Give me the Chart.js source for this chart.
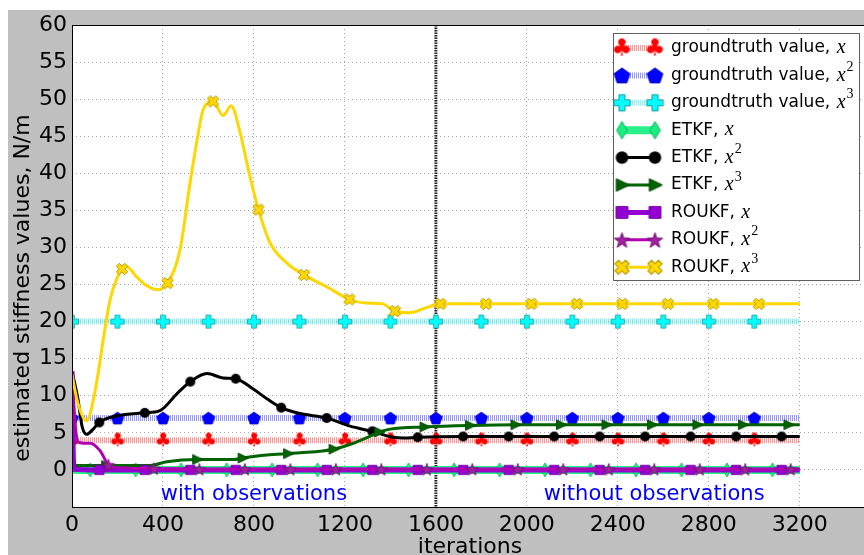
<!DOCTYPE html>
<html>
<head>
<meta charset="utf-8">
<script src="https://cdn.jsdelivr.net/npm/chart.js@4/dist/chart.umd.min.js"></script>
<style>
  html, body { margin: 0; padding: 0; background: #fff; overflow: hidden; }
  #wrap { position: absolute; left: 0; top: 0; width: 868px; height: 555px; }
</style>
</head>
<body>
<div id="wrap"><canvas id="stiffness" width="868" height="555"></canvas></div>
<script>
// valeurs (iterations -> raideur estimee, N/m)
const xTickValues = [0, 400, 800, 1200, 1600, 2000, 2400, 2800, 3200];
const yTickValues = [0, 5, 10, 15, 20, 25, 30, 35, 40, 45, 50, 55, 60];

const legendNames = ['groundtruth value', 'groundtruth value', 'groundtruth value',
    'ETKF', 'ETKF', 'ETKF', 'ROUKF', 'ROUKF', 'ROUKF'];
const legendPowers = ['', '2', '3', '', '2', '3', '', '2', '3'];

const gtIter = [0, 200, 400, 600, 800, 1000, 1200, 1400, 1600, 1800, 2000, 2200, 2400, 2600, 2800, 3000, 3200];
const gtX = [4, 4, 4, 4, 4, 4, 4, 4, 4, 4, 4, 4, 4, 4, 4, 4, 4];
const gtX2 = [7, 7, 7, 7, 7, 7, 7, 7, 7, 7, 7, 7, 7, 7, 7, 7, 7];
const gtX3 = [20, 20, 20, 20, 20, 20, 20, 20, 20, 20, 20, 20, 20, 20, 20, 20, 20];

const etkfXIter = [0, 80, 280, 480, 680, 880, 1080, 1280, 1480, 1680, 1880, 2080, 2280, 2480, 2680, 2880, 3080, 3200];
const etkfXVal = [0, 0, 0, 0, 0, 0, 0, 0, 0, 0, 0, 0, 0, 0, 0, 0, 0, 0];

const etkfX2Iter = [0, 26, 44, 64, 93, 120, 198, 320, 387, 462, 520, 594, 664, 720, 797, 857, 920, 1003, 1120,
    1223, 1320, 1412, 1460, 1520, 1720, 1920, 2120, 2320, 2520, 2720, 2920, 3120, 3200];
const etkfX2Val = [13.3, 9.6, 5.9, 4.8, 5.5, 6.4, 7.3, 7.7, 8.0, 10.3, 11.9, 13.0, 12.4, 12.3, 10.9, 9.6, 8.4, 7.6, 7.0,
    5.9, 5.2, 4.4, 4.3, 4.4, 4.5, 4.5, 4.5, 4.5, 4.5, 4.5, 4.5, 4.5, 4.5];

const etkfX3Iter = [0, 8, 150, 343, 417, 550, 710, 750, 856, 950, 1003, 1150, 1237, 1300, 1350, 1399, 1550,
    1750, 1950, 2150, 2350, 2550, 2750, 2950, 3150, 3200];
const etkfX3Val = [13.0, 0.6, 0.6, 0.6, 1.1, 1.4, 1.4, 1.6, 2.0, 2.2, 2.3, 2.8, 3.6, 4.4, 5.1, 5.5, 5.8,
    6.0, 6.1, 6.1, 6.1, 6.1, 6.1, 6.1, 6.1, 6.1];

const roukfXIter = [0, 8, 120, 320, 520, 720, 920, 1120, 1320, 1520, 1720, 1920, 2120, 2320, 2520, 2720, 2920, 3120, 3200];
const roukfXVal = [13.3, 0.1, 0, 0, 0, 0, 0, 0, 0, 0, 0, 0, 0, 0, 0, 0, 0, 0, 0];

const roukfX2Iter = [0, 13, 26, 50, 80, 123, 160, 200, 360, 560, 760, 960, 1160, 1360, 1560, 1760, 1960, 2160,
    2360, 2560, 2760, 2960, 3160, 3200];
const roukfX2Val = [13.3, 6.5, 3.8, 3.6, 3.6, 2.6, 0.7, 0.3, 0.2, 0.1, 0.1, 0.1, 0.1, 0.1, 0.1, 0.1, 0.1, 0.1,
    0.1, 0.1, 0.1, 0.1, 0.1, 0.1];

const roukfX3Iter = [0, 26, 64, 80, 110, 137, 167, 200, 220, 240, 285, 330, 378, 420, 475, 519, 550, 577, 620, 664,
    700, 739, 783, 820, 871, 945, 1020, 1120, 1220, 1290, 1364, 1420, 1487, 1550, 1620, 1820, 2020, 2220, 2420,
    2620, 2820, 3020, 3200];
const roukfX3Val = [12.8, 9.0, 6.6, 7.6, 12.1, 17.5, 22.9, 26.0, 27.1, 27.4, 26.0, 24.8, 24.3, 25.2, 29.7, 38.7, 44.5, 48.6, 49.7, 47.8,
    49.1, 45.5, 39.5, 35.1, 30.6, 27.9, 26.3, 24.7, 23.0, 22.5, 22.4, 21.4, 21.2, 21.8, 22.4, 22.4, 22.4, 22.4, 22.4,
    22.4, 22.4, 22.4, 22.4];

// iteration des marqueurs (modulo 200)
const markOffsets = [0, 0, 0, 80, 120, 150, 120, 160, 20];

const annotTexts = ['with observations', 'without observations'];
const annotIter = [800, 2560];
const annotVal = [-3.3, -3.3];
const observationEnd = 1600;

function pts(xs, ys) {
    return xs.map((x, i) => ({x: x, y: ys[i]}));
}

// petits canvas pour les marqueurs
function marker(size, scale, draw) {
    let c = document.createElement('canvas');
    c.width = Math.ceil(size * scale);
    c.height = Math.ceil(size * scale);
    let g = c.getContext('2d');
    g.translate(c.width / 2, c.height / 2);
    g.scale(scale, scale);
    draw(g);
    return c;
}

function poly(g, points, fill, stroke) {
    g.beginPath();
    points.forEach((p, i) => i ? g.lineTo(p[0], p[1]) : g.moveTo(p[0], p[1]));
    g.closePath();
    g.fillStyle = fill;
    g.fill();
    g.lineWidth = 0.8;
    g.strokeStyle = stroke;
    g.stroke();
}

function plusPoints(a, w) {
    return [[-w, -a], [w, -a], [w, -w], [a, -w], [a, w], [w, w], [w, a], [-w, a], [-w, w], [-a, w], [-a, -w], [-w, -w]];
}

const drawers = [
    g => {
        g.fillStyle = '#ff0000';
        g.font = '19px "DejaVu Sans"';
        g.textAlign = 'center';
        g.textBaseline = 'middle';
        g.fillText('\u2663', 0, 1);
    },
    g => {
        let p = [];
        for (let k = 0; k < 5; k++) {
            let a = -Math.PI / 2 + k * 2 * Math.PI / 5;
            p.push([6.6 * Math.cos(a), 6.6 * Math.sin(a) + 0.6]);
        }
        poly(g, p, '#0000ff', '#0000cc');
    },
    g => poly(g, plusPoints(6.5, 2.4), '#00ffff', '#1a9a9a'),
    g => poly(g, [[0, -7], [4.3, 0], [0, 7], [-4.3, 0]], '#1aee80', '#10b060'),
    g => {
        g.beginPath();
        g.arc(0, 0, 5, 0, Math.PI * 2);
        g.fillStyle = '#000';
        g.fill();
    },
    g => poly(g, [[6, 0], [-4.5, -5], [-4.5, 5]], '#006400', '#004000'),
    g => poly(g, [[-4.7, -4.7], [4.7, -4.7], [4.7, 4.7], [-4.7, 4.7]], '#9400d3', '#7000a0'),
    g => {
        let p = [];
        for (let k = 0; k < 10; k++) {
            let r = k % 2 ? 2.6 : 6.5;
            let a = -Math.PI / 2 + k * Math.PI / 5;
            p.push([r * Math.cos(a), r * Math.sin(a) + 0.8]);
        }
        poly(g, p, '#a020a0', '#701070');
    },
    g => {
        g.rotate(Math.PI / 4);
        poly(g, plusPoints(6, 2.1), '#ffd700', '#a89000');
    }
];

const plotMarks = drawers.map(d => marker(18, 1, d));
const legendMarks = drawers.map(d => marker(18, 1.25, d));

const styles = [
    {color: 'rgba(255,40,40,0.5)', width: 6, dash: [1, 1]},
    {color: 'rgba(40,40,255,0.5)', width: 6, dash: [1, 1]},
    {color: 'rgba(0,240,240,0.5)', width: 6, dash: [1, 1]},
    {color: 'rgba(0,238,118,0.85)', width: 8, dash: []},
    {color: '#000000', width: 3, dash: []},
    {color: '#006400', width: 3, dash: []},
    {color: '#9400d3', width: 5, dash: []},
    {color: '#b000b0', width: 3, dash: []},
    {color: '#ffd700', width: 3, dash: []}
];

const seriesData = [
    pts(gtIter, gtX), pts(gtIter, gtX2), pts(gtIter, gtX3),
    pts(etkfXIter, etkfXVal), pts(etkfX2Iter, etkfX2Val), pts(etkfX3Iter, etkfX3Val),
    pts(roukfXIter, roukfXVal), pts(roukfX2Iter, roukfX2Val), pts(roukfX3Iter, roukfX3Val)
];

const datasets = seriesData.map((d, i) => ({
    label: legendNames[i] + ', x' + legendPowers[i],
    data: d,
    borderColor: styles[i].color,
    borderWidth: styles[i].width,
    borderDash: styles[i].dash,
    borderCapStyle: 'butt',
    cubicInterpolationMode: 'monotone',
    pointStyle: plotMarks[i],
    pointRadius: ctx => (ctx.raw && ctx.raw.x < 3200 && ctx.raw.x % 200 === markOffsets[i]) ? 5 : 0,
    pointHoverRadius: 0,
    order: 9 - i,
    fill: false
}));

const FONT = '"DejaVu Sans", sans-serif';

// fond gris, ligne 1600, textes, cadre, legende
const decorPlugin = {
    id: 'decor',
    beforeDraw(chart) {
        let ctx = chart.ctx;
        let a = chart.chartArea;
        ctx.save();
        ctx.fillStyle = '#ffffff';
        ctx.fillRect(0, 0, chart.width, chart.height);
        ctx.fillStyle = '#bfbfbf';
        ctx.fillRect(8, 10, chart.width - 8, chart.height - 10);
        ctx.fillStyle = '#ffffff';
        ctx.fillRect(a.left, a.top, a.right - a.left, a.bottom - a.top);
        ctx.restore();
    },
    beforeDatasetsDraw(chart) {
        let ctx = chart.ctx;
        let a = chart.chartArea;
        let xs = chart.scales.x, ys = chart.scales.y;
        let px = xs.getPixelForValue(observationEnd);
        ctx.save();
        ctx.strokeStyle = 'rgba(0,0,0,0.85)';
        ctx.lineWidth = 3;
        ctx.setLineDash([1.5, 1]);
        ctx.beginPath();
        ctx.moveTo(px, a.top);
        ctx.lineTo(px, a.bottom);
        ctx.stroke();
        ctx.setLineDash([]);
        ctx.fillStyle = '#0000ff';
        ctx.font = '21px ' + FONT;
        ctx.textAlign = 'center';
        ctx.textBaseline = 'middle';
        annotTexts.forEach((t, i) => {
            ctx.fillText(t, xs.getPixelForValue(annotIter[i]), ys.getPixelForValue(annotVal[i]));
        });
        ctx.restore();
    },
    afterDraw(chart) {
        let ctx = chart.ctx;
        let a = chart.chartArea;
        ctx.save();
        ctx.strokeStyle = '#000';
        ctx.lineWidth = 1;
        ctx.strokeRect(a.left + 0.5, a.top + 0.5, a.right - a.left, a.bottom - a.top);

        // titres des axes
        ctx.fillStyle = '#000';
        ctx.font = '22px ' + FONT;
        ctx.textAlign = 'center';
        ctx.textBaseline = 'middle';
        ctx.fillText('iterations', (a.left + a.right) / 2, 547);
        ctx.translate(23, 288);
        ctx.rotate(-Math.PI / 2);
        ctx.fillText('estimated stiffness values, N/m', 0, 0);
        ctx.restore();

        // legende
        ctx.save();
        let lx = 613, ly = 33, lw = 246, lh = 247;
        ctx.fillStyle = '#fff';
        ctx.fillRect(lx, ly, lw, lh);
        ctx.strokeStyle = '#606060';
        ctx.lineWidth = 1;
        ctx.strokeRect(lx + 0.5, ly + 0.5, lw, lh);
        ctx.textBaseline = 'middle';
        for (let i = 0; i < 9; i++) {
            let y = 48 + 27.4 * i;
            let s = styles[i];
            let m = legendMarks[i];
            ctx.strokeStyle = s.color;
            ctx.lineWidth = s.width;
            ctx.setLineDash(s.dash);
            ctx.beginPath();
            ctx.moveTo(622, y);
            ctx.lineTo(655, y);
            ctx.stroke();
            ctx.setLineDash([]);
            ctx.drawImage(m, 622 - m.width / 2, y - m.height / 2);
            ctx.drawImage(m, 655 - m.width / 2, y - m.height / 2);
            ctx.fillStyle = '#000';
            ctx.font = '17px ' + FONT;
            let txt = legendNames[i] + ', ';
            ctx.fillText(txt, 671, y);
            let tx = 671 + ctx.measureText(txt).width + 1;
            ctx.font = 'italic 20px "Liberation Serif"';
            ctx.fillText('x', tx, y);
            tx += ctx.measureText('x').width + 1;
            if (legendPowers[i]) {
                ctx.font = '14px "Liberation Serif"';
                ctx.fillText(legendPowers[i], tx, y - 8);
            }
        }
        ctx.restore();
    }
};

let ctx = document.getElementById('stiffness').getContext('2d');
new Chart(ctx, {
    type: 'line',
    data: {datasets: datasets},
    options: {
        responsive: false,
        animation: false,
        events: [],
        layout: {autoPadding: false, padding: {left: 8, top: 25, right: 0, bottom: 0}},
        plugins: {legend: {display: false}, tooltip: {enabled: false}},
        scales: {
            x: {
                type: 'linear',
                min: 0,
                max: 3500,
                afterBuildTicks: s => { s.ticks = xTickValues.map(v => ({value: v})); },
                afterFit: s => { s.height = 48; s.paddingLeft = 0; s.paddingRight = 0; },
                ticks: {
                    color: '#000',
                    font: {family: FONT, size: 22},
                    padding: 5,
                    maxRotation: 0,
                    autoSkip: false,
                    callback: v => String(v)
                },
                grid: {color: '#a8a8a8', drawTicks: false},
                border: {display: false, dash: [1, 3]}
            },
            y: {
                min: -5,
                max: 60,
                afterBuildTicks: s => { s.ticks = yTickValues.map(v => ({value: v})); },
                afterFit: s => { s.width = 64; s.paddingTop = 0; s.paddingBottom = 0; },
                ticks: {
                    color: '#000',
                    font: {family: FONT, size: 22},
                    padding: 5,
                    autoSkip: false,
                    callback: v => String(v)
                },
                grid: {color: '#a8a8a8', drawTicks: false},
                border: {display: false, dash: [1, 3]}
            }
        }
    },
    plugins: [decorPlugin]
});
</script>
</body>
</html>
